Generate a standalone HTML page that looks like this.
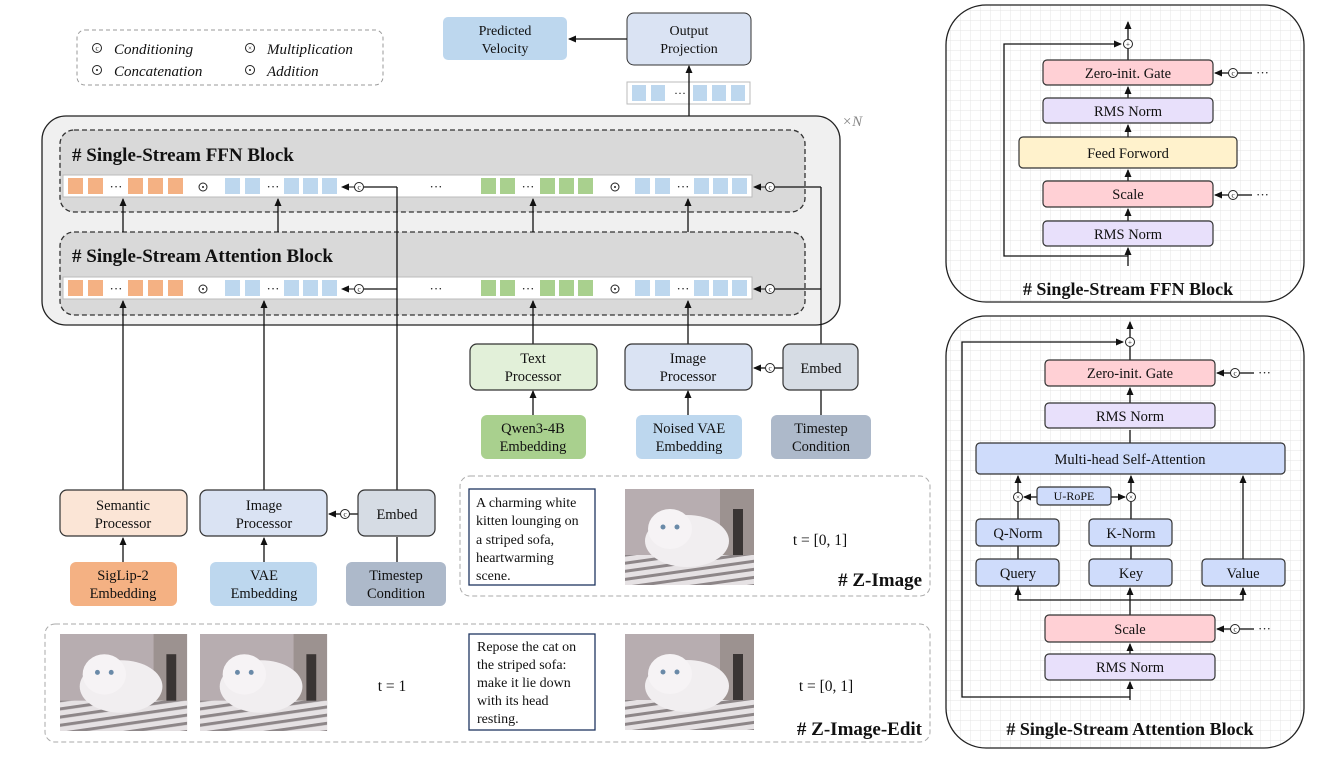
<!DOCTYPE html>
<html><head><meta charset="utf-8"><style>body{margin:0;background:#fff}svg{display:block}text{font-family:"Liberation Serif",serif;fill:#111}</style></head><body>
<svg width="1325" height="758" viewBox="0 0 1325 758" xmlns="http://www.w3.org/2000/svg">
<defs>
<marker id="a" markerWidth="8" markerHeight="8" refX="7" refY="4" orient="auto" markerUnits="userSpaceOnUse"><path d="M0,0.5 L8,4 L0,7.5z" fill="#111"/></marker>
<pattern id="g" width="10" height="10" patternUnits="userSpaceOnUse"><path d="M10 0H0V10" fill="none" stroke="#e4e4e4" stroke-width="1"/></pattern>
<pattern id="st" width="8" height="8" patternUnits="userSpaceOnUse" patternTransform="rotate(-8)"><rect width="8" height="8" fill="#e6e2e4"/><rect width="8" height="3" fill="#8d8688"/></pattern>
<g id="cat">
<rect width="129" height="96" fill="#b7adb0"/>
<rect x="95" width="34" height="70" fill="#9c9290"/>
<rect x="108" y="20" width="10" height="50" fill="#3a3534"/>
<rect x="0" y="66" width="129" height="30" fill="url(#st)"/>
<ellipse cx="62" cy="52" rx="42" ry="26" fill="#f1eef0"/>
<ellipse cx="45" cy="40" rx="22" ry="20" fill="#f6f3f5"/>
<circle cx="38" cy="38" r="2.5" fill="#6a8aa8"/><circle cx="52" cy="38" r="2.5" fill="#6a8aa8"/>
</g>
</defs>
<!-- legend -->
<rect x="77" y="30" width="306" height="55" rx="8" fill="none" stroke="#999" stroke-dasharray="4,3"/>
<g font-size="15" font-style="italic">
<text x="114" y="54">Conditioning</text><text x="114" y="76">Concatenation</text>
<text x="267" y="54">Multiplication</text><text x="267" y="76">Addition</text>
</g>
<!-- top -->
<rect x="443" y="17" width="124" height="43" rx="5" fill="#bdd7ee"/>
<text x="505" y="35" font-size="14" text-anchor="middle">Predicted</text><text x="505" y="53" font-size="14" text-anchor="middle">Velocity</text>
<rect x="627" y="13" width="124" height="52" rx="7" fill="#dae3f3" stroke="#333"/>
<text x="689" y="35" font-size="14" text-anchor="middle">Output</text><text x="689" y="53" font-size="14" text-anchor="middle">Projection</text>
<line x1="627" y1="39" x2="569" y2="39" stroke="#111" stroke-width="1.3" marker-end="url(#a)"/>
<rect x="627" y="82" width="123" height="22" fill="#fff" stroke="#bbb"/>
<g fill="#bdd7ee"><rect x="632" y="85" width="14" height="16"/><rect x="651" y="85" width="14" height="16"/><rect x="693" y="85" width="14" height="16"/><rect x="712" y="85" width="14" height="16"/><rect x="731" y="85" width="14" height="16"/></g>
<text x="680" y="97" font-size="12" text-anchor="middle">···</text>
<line x1="689" y1="116" x2="689" y2="66" stroke="#111" stroke-width="1.3" marker-end="url(#a)"/>
<!-- container -->
<rect x="42" y="116" width="798" height="209" rx="24" fill="#f0f0f0" stroke="#222" stroke-width="1.3"/>
<text x="842" y="126" font-size="15" font-style="italic" style="fill:#888">×N</text>
<rect x="60" y="130" width="745" height="82" rx="14" fill="#d9d9d9" stroke="#333" stroke-dasharray="5,3" stroke-width="1.3"/>
<rect x="60" y="232" width="745" height="83" rx="14" fill="#d9d9d9" stroke="#333" stroke-dasharray="5,3" stroke-width="1.3"/>
<text x="72" y="161" font-size="19" font-weight="bold">#  Single-Stream FFN Block</text>
<text x="72" y="262" font-size="19" font-weight="bold">#  Single-Stream Attention Block</text>
<g id="row">
<rect x="63" y="175" width="689" height="22" fill="#fff" stroke="#bbb"/>
<g fill="#f4b183"><rect x="68" y="178" width="15" height="16"/><rect x="88" y="178" width="15" height="16"/><rect x="128" y="178" width="15" height="16"/><rect x="148" y="178" width="15" height="16"/><rect x="168" y="178" width="15" height="16"/></g>
<g fill="#bdd7ee"><rect x="225" y="178" width="15" height="16"/><rect x="245" y="178" width="15" height="16"/><rect x="284" y="178" width="15" height="16"/><rect x="303" y="178" width="15" height="16"/><rect x="322" y="178" width="15" height="16"/>
<rect x="635" y="178" width="15" height="16"/><rect x="655" y="178" width="15" height="16"/><rect x="694" y="178" width="15" height="16"/><rect x="713" y="178" width="15" height="16"/><rect x="732" y="178" width="15" height="16"/></g>
<g fill="#a9d08e"><rect x="481" y="178" width="15" height="16"/><rect x="500" y="178" width="15" height="16"/><rect x="540" y="178" width="15" height="16"/><rect x="559" y="178" width="15" height="16"/><rect x="578" y="178" width="15" height="16"/></g>
<g font-size="13" text-anchor="middle"><text x="116" y="191">···</text><text x="273" y="191">···</text><text x="436" y="191">···</text><text x="528" y="191">···</text><text x="683" y="191">···</text></g>
<circle cx="203" cy="187" r="4" fill="none" stroke="#222"/><circle cx="203" cy="187" r="1" fill="#222"/>
<circle cx="615" cy="187" r="4" fill="none" stroke="#222"/><circle cx="615" cy="187" r="1" fill="#222"/>
<line x1="355" y1="187" x2="342" y2="187" stroke="#111" marker-end="url(#a)"/>
<line x1="766" y1="187" x2="754" y2="187" stroke="#111" marker-end="url(#a)"/>
</g>
<use href="#row" y="102"/>
<!-- connections vertical -->
<g stroke="#111" stroke-width="1.3" fill="none">
<line x1="364" y1="187" x2="397" y2="187"/><line x1="364" y1="289" x2="397" y2="289"/>
<line x1="397" y1="187" x2="397" y2="492"/>
<line x1="775" y1="187" x2="821" y2="187"/><line x1="775" y1="289" x2="821" y2="289"/>
<line x1="821" y1="187" x2="821" y2="345"/>
<line x1="123" y1="232" x2="123" y2="199" marker-end="url(#a)"/>
<line x1="278" y1="232" x2="278" y2="199" marker-end="url(#a)"/>
<line x1="533" y1="232" x2="533" y2="199" marker-end="url(#a)"/>
<line x1="688" y1="232" x2="688" y2="199" marker-end="url(#a)"/>
<line x1="123" y1="490" x2="123" y2="301" marker-end="url(#a)"/>
<line x1="264" y1="490" x2="264" y2="301" marker-end="url(#a)"/>
<line x1="533" y1="344" x2="533" y2="301" marker-end="url(#a)"/>
<line x1="688" y1="344" x2="688" y2="301" marker-end="url(#a)"/>
<line x1="533" y1="415" x2="533" y2="391" marker-end="url(#a)"/>
<line x1="688" y1="415" x2="688" y2="391" marker-end="url(#a)"/>
<line x1="821" y1="415" x2="821" y2="390"/>
<line x1="783" y1="368" x2="774" y2="368"/><line x1="765" y1="368" x2="754" y2="368" marker-end="url(#a)"/>
<line x1="123" y1="562" x2="123" y2="538" marker-end="url(#a)"/>
<line x1="264" y1="562" x2="264" y2="538" marker-end="url(#a)"/>
<line x1="397" y1="562" x2="397" y2="537"/>
<line x1="358" y1="514" x2="349" y2="514"/><line x1="340" y1="514" x2="329" y2="514" marker-end="url(#a)"/>
</g>
<!-- boxes -->
<g stroke="#333" stroke-width="1.2">
<rect x="470" y="344" width="127" height="46" rx="7" fill="#e2f0d9"/>
<rect x="625" y="344" width="127" height="46" rx="7" fill="#dae3f3"/>
<rect x="783" y="344" width="75" height="46" rx="7" fill="#d6dce4"/>
<rect x="60" y="490" width="127" height="46" rx="7" fill="#fbe5d6"/>
<rect x="200" y="490" width="127" height="46" rx="7" fill="#dae3f3"/>
<rect x="358" y="490" width="77" height="46" rx="7" fill="#d6dce4"/>
</g>
<g stroke="none">
<rect x="481" y="415" width="105" height="44" rx="6" fill="#a9d08e"/>
<rect x="636" y="415" width="106" height="44" rx="6" fill="#bdd7ee"/>
<rect x="771" y="415" width="100" height="44" rx="6" fill="#adb9ca"/>
<rect x="70" y="562" width="107" height="44" rx="6" fill="#f4b183"/>
<rect x="210" y="562" width="107" height="44" rx="6" fill="#bdd7ee"/>
<rect x="346" y="562" width="100" height="44" rx="6" fill="#adb9ca"/>
</g>
<g font-size="14.5" text-anchor="middle">
<text x="533" y="363">Text</text><text x="533" y="381">Processor</text>
<text x="688" y="363">Image</text><text x="688" y="381">Processor</text>
<text x="821" y="373">Embed</text>
<text x="123" y="510">Semantic</text><text x="123" y="528">Processor</text>
<text x="264" y="510">Image</text><text x="264" y="528">Processor</text>
<text x="397" y="519">Embed</text>
<text x="533" y="433">Qwen3-4B</text><text x="533" y="451">Embedding</text>
<text x="689" y="433">Noised VAE</text><text x="689" y="451">Embedding</text>
<text x="821" y="433">Timestep</text><text x="821" y="451">Condition</text>
<text x="123" y="580">SigLip-2</text><text x="123" y="598">Embedding</text>
<text x="264" y="580">VAE</text><text x="264" y="598">Embedding</text>
<text x="396" y="580">Timestep</text><text x="396" y="598">Condition</text>
</g>
<!-- Z-Image -->
<rect x="460" y="476" width="470" height="120" rx="10" fill="none" stroke="#aaa" stroke-dasharray="5,3"/>
<rect x="469" y="489" width="126" height="96" fill="#fff" stroke="#1f3560" stroke-width="1.3"/>
<g font-size="14"><text x="476" y="507">A charming white</text><text x="476" y="525">kitten lounging on</text><text x="476" y="544">a striped sofa,</text><text x="476" y="562">heartwarming</text><text x="476" y="580">scene.</text></g>
<use href="#cat" x="625" y="489"/>
<text x="820" y="545" font-size="15.5" text-anchor="middle">t = [0, 1]</text>
<text x="922" y="586" font-size="19" font-weight="bold" text-anchor="end"># Z-Image</text>
<!-- Z-Image-Edit -->
<rect x="45" y="624" width="885" height="118" rx="10" fill="none" stroke="#aaa" stroke-dasharray="5,3"/>
<use href="#cat" transform="translate(60,634) scale(0.985,1.01)"/>
<use href="#cat" transform="translate(200,634) scale(0.985,1.01)"/>
<text x="392" y="691" font-size="15.5" text-anchor="middle">t = 1</text>
<rect x="469" y="634" width="126" height="96" fill="#fff" stroke="#1f3560" stroke-width="1.3"/>
<g font-size="14"><text x="477" y="651">Repose the cat on</text><text x="477" y="669">the striped sofa:</text><text x="477" y="687">make it lie down</text><text x="477" y="705">with its head</text><text x="477" y="723">resting.</text></g>
<use href="#cat" x="625" y="634"/>
<text x="826" y="691" font-size="15.5" text-anchor="middle">t = [0, 1]</text>
<text x="922" y="735" font-size="19" font-weight="bold" text-anchor="end"># Z-Image-Edit</text>
<!-- right FFN panel -->
<rect x="946" y="5" width="358" height="297" rx="40" fill="url(#g)" stroke="#222" stroke-width="1.3"/>
<g stroke="#111" stroke-width="1.3" fill="none">
<line x1="1128" y1="266" x2="1128" y2="248" marker-end="url(#a)"/>
<line x1="1128" y1="221" x2="1128" y2="209" marker-end="url(#a)"/>
<line x1="1128" y1="181" x2="1128" y2="170" marker-end="url(#a)"/>
<line x1="1128" y1="137" x2="1128" y2="125" marker-end="url(#a)"/>
<line x1="1128" y1="98" x2="1128" y2="87" marker-end="url(#a)"/>
<line x1="1128" y1="60" x2="1128" y2="49"/>
<line x1="1128" y1="39" x2="1128" y2="22" marker-end="url(#a)"/>
<polyline points="1128,256 1004,256 1004,44 1121,44" marker-end="url(#a)"/>
<line x1="1229" y1="73" x2="1215" y2="73" marker-end="url(#a)"/><line x1="1238" y1="73" x2="1252" y2="73"/>
<line x1="1229" y1="195" x2="1215" y2="195" marker-end="url(#a)"/><line x1="1238" y1="195" x2="1252" y2="195"/>
</g>
<text x="1256" y="77" font-size="13">···</text><text x="1256" y="199" font-size="13">···</text>
<g stroke="#333" stroke-width="1.2">
<rect x="1043" y="60" width="170" height="25" rx="4" fill="#ffd0d5"/>
<rect x="1043" y="98" width="170" height="25" rx="4" fill="#e8e0fb"/>
<rect x="1019" y="137" width="218" height="31" rx="4" fill="#fff2cc"/>
<rect x="1043" y="181" width="170" height="26" rx="4" fill="#ffd0d5"/>
<rect x="1043" y="221" width="170" height="25" rx="4" fill="#e8e0fb"/>
</g>
<g font-size="14.5" text-anchor="middle">
<text x="1128" y="78">Zero-init. Gate</text><text x="1128" y="116">RMS Norm</text><text x="1128" y="158">Feed Forword</text><text x="1128" y="199">Scale</text><text x="1128" y="239">RMS Norm</text>
</g>
<text x="1128" y="295" font-size="18" font-weight="bold" text-anchor="middle"># Single-Stream FFN Block</text>
<!-- right Attn panel -->
<rect x="946" y="316" width="358" height="432" rx="40" fill="url(#g)" stroke="#222" stroke-width="1.3"/>
<g stroke="#111" stroke-width="1.3" fill="none">
<line x1="1130" y1="700" x2="1130" y2="682" marker-end="url(#a)"/>
<line x1="1130" y1="654" x2="1130" y2="644" marker-end="url(#a)"/>
<line x1="1130" y1="615" x2="1130" y2="588" marker-end="url(#a)"/>
<polyline points="1018,586 1018,600 1243,600 1243,588"/>
<line x1="1018" y1="600" x2="1018" y2="588" marker-end="url(#a)"/>
<line x1="1243" y1="600" x2="1243" y2="588" marker-end="url(#a)"/>
<line x1="1018" y1="559" x2="1018" y2="546"/><line x1="1131" y1="559" x2="1131" y2="546"/>
<line x1="1018" y1="519" x2="1018" y2="502"/><line x1="1131" y1="519" x2="1131" y2="502"/>
<line x1="1018" y1="492" x2="1018" y2="476" marker-end="url(#a)"/>
<line x1="1131" y1="492" x2="1131" y2="476" marker-end="url(#a)"/>
<line x1="1243" y1="559" x2="1243" y2="476" marker-end="url(#a)"/>
<line x1="1037" y1="497" x2="1024" y2="497" marker-end="url(#a)"/>
<line x1="1111" y1="497" x2="1125" y2="497" marker-end="url(#a)"/>
<line x1="1130" y1="443" x2="1130" y2="430"/>
<line x1="1130" y1="403" x2="1130" y2="388" marker-end="url(#a)"/>
<line x1="1130" y1="360" x2="1130" y2="347"/>
<line x1="1130" y1="337" x2="1130" y2="322" marker-end="url(#a)"/>
<polyline points="1130,697 962,697 962,342 1123,342" marker-end="url(#a)"/>
<line x1="1231" y1="373" x2="1217" y2="373" marker-end="url(#a)"/><line x1="1240" y1="373" x2="1254" y2="373"/>
<line x1="1231" y1="629" x2="1217" y2="629" marker-end="url(#a)"/><line x1="1240" y1="629" x2="1254" y2="629"/>
</g>
<text x="1258" y="377" font-size="13">···</text><text x="1258" y="633" font-size="13">···</text>
<g stroke="#333" stroke-width="1.2">
<rect x="1045" y="360" width="170" height="26" rx="4" fill="#ffd0d5"/>
<rect x="1045" y="403" width="170" height="25" rx="4" fill="#e8e0fb"/>
<rect x="976" y="443" width="309" height="31" rx="4" fill="#cfdcfb"/>
<rect x="1037" y="487" width="74" height="18" rx="3" fill="#cfdcfb"/>
<rect x="976" y="519" width="83" height="27" rx="4" fill="#cfdcfb"/>
<rect x="1089" y="519" width="83" height="27" rx="4" fill="#cfdcfb"/>
<rect x="976" y="559" width="83" height="27" rx="4" fill="#cfdcfb"/>
<rect x="1089" y="559" width="83" height="27" rx="4" fill="#cfdcfb"/>
<rect x="1202" y="559" width="83" height="27" rx="4" fill="#cfdcfb"/>
<rect x="1045" y="615" width="170" height="27" rx="4" fill="#ffd0d5"/>
<rect x="1045" y="654" width="170" height="26" rx="4" fill="#e8e0fb"/>
</g>
<g font-size="14.5" text-anchor="middle">
<text x="1130" y="378">Zero-init. Gate</text><text x="1130" y="421">RMS Norm</text><text x="1130" y="464">Multi-head Self-Attention</text>
<text x="1074" y="500" font-size="12">U-RoPE</text>
<text x="1018" y="538">Q-Norm</text><text x="1131" y="538">K-Norm</text>
<text x="1018" y="578">Query</text><text x="1131" y="578">Key</text><text x="1243" y="578">Value</text>
<text x="1130" y="634">Scale</text><text x="1130" y="672">RMS Norm</text>
</g>
<text x="1130" y="735" font-size="18" font-weight="bold" text-anchor="middle"># Single-Stream Attention Block</text>
<!-- operator circles -->
<g fill="#fff" stroke="#222">
<circle cx="97" cy="48" r="4.5"/><circle cx="97" cy="70" r="4.5"/><circle cx="250" cy="48" r="4.5"/><circle cx="250" cy="70" r="4.5"/>
<circle cx="359" cy="187" r="4.5"/><circle cx="770" cy="187" r="4.5"/><circle cx="359" cy="289" r="4.5"/><circle cx="770" cy="289" r="4.5"/>
<circle cx="770" cy="368" r="4.5"/><circle cx="345" cy="514" r="4.5"/>
<circle cx="1233" cy="73" r="4.5"/><circle cx="1233" cy="195" r="4.5"/><circle cx="1235" cy="373" r="4.5"/><circle cx="1235" cy="629" r="4.5"/>
<circle cx="1128" cy="44" r="4.5"/><circle cx="1130" cy="342" r="4.5"/><circle cx="1018" cy="497" r="4.5"/><circle cx="1131" cy="497" r="4.5"/>
</g>
<g font-size="7" text-anchor="middle" font-family="Liberation Sans, sans-serif">
<text x="97" y="50.5">c</text><text x="359" y="189.5">c</text><text x="770" y="189.5">c</text><text x="359" y="291.5">c</text><text x="770" y="291.5">c</text><text x="770" y="370.5">c</text><text x="345" y="516.5">c</text>
<text x="1233" y="75.5">c</text><text x="1233" y="197.5">c</text><text x="1235" y="375.5">c</text><text x="1235" y="631.5">c</text>
<text x="250" y="50.5">×</text><text x="1018" y="499.5">×</text><text x="1131" y="499.5">×</text>
<text x="1128" y="46.5">+</text><text x="1130" y="344.5">+</text>
</g>
<circle cx="97" cy="70" r="1" fill="#222"/><circle cx="250" cy="70" r="1" fill="#222"/>
</svg>
</body></html>
